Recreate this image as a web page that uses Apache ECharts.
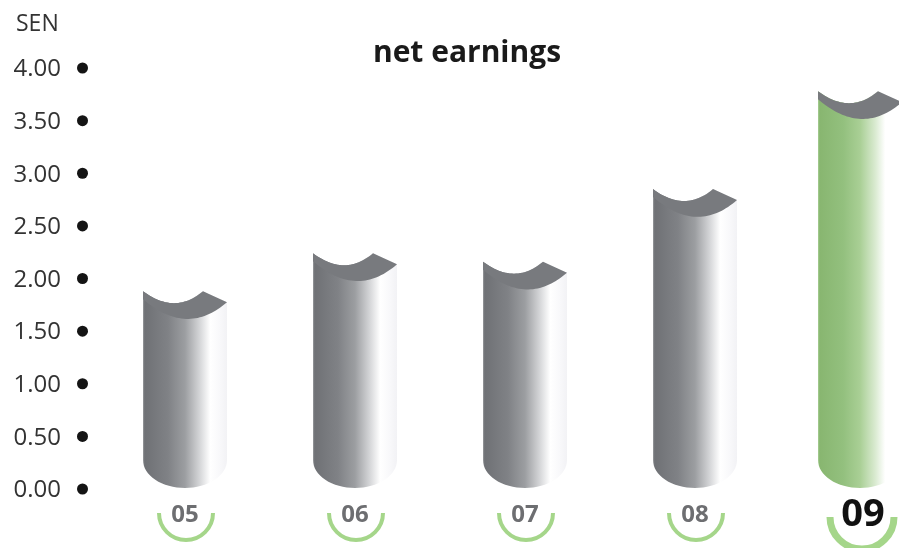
<!DOCTYPE html>
<html>
<head>
<meta charset="utf-8">
<style>html,body{margin:0;padding:0;background:#fff}#chart{width:899px;height:548px}</style>
<script src="https://cdn.jsdelivr.net/npm/echarts@6/dist/echarts.min.js"></script>
</head>
<body>
<div id="chart"></div>
<script>
// Net earnings per share, in sen, by financial year
const years = ['05', '06', '07', '08', '09'];
const earnings = [1.88, 2.24, 2.16, 2.85, 3.78];
const yTicks = [0, 0.5, 1, 1.5, 2, 2.5, 3, 3.5, 4];
const titleText = 'net earnings';
const unitText = 'SEN';
const latestYear = '09';

const FONT = '"Open Sans", sans-serif';

const greyStops = [
  [0, '#9a9c9f'], [0.02, '#6f7175'], [0.3, '#808286'], [0.5, '#9c9ea1'],
  [0.68, '#d6d7d9'], [0.8, '#ffffff'], [0.92, '#f8f8fa'], [1, '#f2f2f5']
];
const greenStops = [
  [0, '#a9cf96'], [0.02, '#88b670'], [0.3, '#93c07e'], [0.5, '#a9cf95'],
  [0.68, '#d9ead0'], [0.8, '#ffffff'], [1, '#ffffff']
];

function gradient(stops) {
  return new echarts.graphic.LinearGradient(0, 0, 1, 0,
    stops.map(s => ({ offset: s[0], color: s[1] })));
}

// Sample a quadratic curve as polygon vertices
function curve(p0, c, p1, n) {
  const pts = [];
  for (let i = 0; i <= n; i++) {
    const t = i / n, u = 1 - t;
    pts.push([
      u * u * p0[0] + 2 * u * t * c[0] + t * t * p1[0],
      u * u * p0[1] + 2 * u * t * c[1] + t * t * p1[1]
    ]);
  }
  return pts;
}

// Sample part of an ellipse between two angles (radians)
function arcPoints(cx, cy, rx, ry, a0, a1, n) {
  const pts = [];
  for (let i = 0; i <= n; i++) {
    const a = a0 + (a1 - a0) * i / n;
    pts.push([cx + rx * Math.cos(a), cy + ry * Math.sin(a)]);
  }
  return pts;
}

function renderColumn(params, api) {
  const idx = api.value(0);
  const latest = years[idx] === latestYear;
  const base = api.coord([idx, 0]);
  const top = api.coord([idx, api.value(1)]);
  const halfW = 42;
  const cx = base[0] - (latest ? 5 : 0);
  const left = cx - halfW;
  const right = cx + halfW;
  const yTop = top[1];
  const yBottom = base[1] - 1;

  // Front rim of the cut, from the right shoulder round to the left edge
  const rim = curve([right, yTop + 11], [cx + 2, yTop + 46], [left, yTop + 8], 36);

  // Back edge of the cut, from the left corner over to the peak
  const inner = curve([left, yTop], [left + 32, yTop + 24], [left + 60, yTop], 28);

  // The body runs under the hollow top so no seam shows along the rim
  const foot = arcPoints(cx, yBottom - 28, halfW, 28, 0, Math.PI, 32);
  const body = foot.concat(inner, [[right, yTop + 11]]);

  const face = inner.concat(rim);

  // Green arc cradling the year label
  const cradleX = base[0] + (latest ? -3 : 1);
  const r = latest ? 32 : 27;
  const cradleY = base[1] + (latest ? 28 : 24);
  const cradle = {
    type: 'arc',
    shape: { cx: cradleX, cy: cradleY, r: r, startAngle: 0, endAngle: Math.PI, clockwise: true },
    style: { fill: null, stroke: '#a5d68a', lineWidth: latest ? 7 : 4 }
  };

  return {
    type: 'group',
    children: [
      { type: 'polygon', shape: { points: body },
        style: { fill: gradient(latest ? greenStops : greyStops) } },
      { type: 'polygon', shape: { points: face }, style: { fill: '#787a7e' } },
      cradle
    ]
  };
}

const chart = echarts.init(document.getElementById('chart'), null, { renderer: 'canvas' });
chart.setOption({
  animation: false,
  backgroundColor: '#ffffff',
  title: [
    { text: titleText, left: 462, top: 33, textAlign: 'center',
      textStyle: { fontFamily: FONT, fontSize: 30, fontWeight: 'bold', color: '#1a1a1a' } },
    { text: unitText, left: 11, top: 8,
      textStyle: { fontFamily: FONT, fontSize: 23, fontWeight: 'normal', color: '#333333' } }
  ],
  grid: { left: 100, top: 68, width: 850, height: 421, containLabel: false, outerBoundsMode: 'none' },
  xAxis: {
    type: 'category',
    data: years.map(y => y === latestYear
      ? { value: y, textStyle: { fontSize: 38, color: '#111111', verticalAlign: 'middle', padding: [8, 4, 0, 0] } }
      : { value: y }),
    axisLine: { show: false },
    axisTick: { show: false },
    splitLine: { show: false },
    axisLabel: {
      interval: 0, margin: 26, verticalAlign: 'middle',
      fontFamily: FONT, fontSize: 24, fontWeight: 'bold', color: '#6d6e71'
    }
  },
  yAxis: {
    type: 'value',
    min: yTicks[0],
    max: yTicks[yTicks.length - 1],
    interval: yTicks[1] - yTicks[0],
    axisLine: { show: false },
    axisTick: { show: false },
    splitLine: { show: false },
    axisLabel: {
      margin: 12,
      align: 'right',
      formatter: v => '{num|' + v.toFixed(2) + '}{gap|}{dot|}',
      rich: {
        num: { fontFamily: FONT, fontSize: 24, color: '#333333', padding: [3, 0, 0, 0] },
        gap: { width: 16, height: 11 },
        dot: { width: 11, height: 11, borderRadius: 6, backgroundColor: '#141414' }
      }
    }
  },
  series: [{
    type: 'custom',
    renderItem: renderColumn,
    clip: false,
    encode: { x: 0, y: 1 },
    data: earnings.map((v, i) => [i, v])
  }]
});
</script>
</body>
</html>
